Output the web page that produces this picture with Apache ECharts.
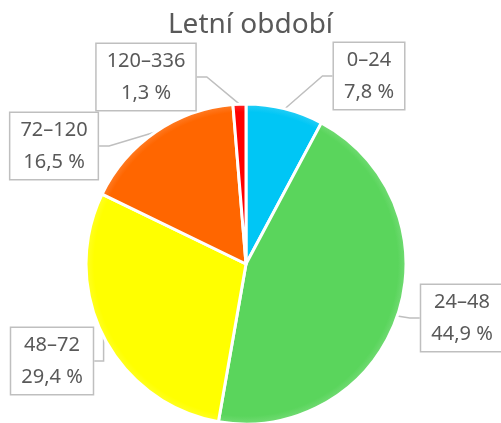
<!DOCTYPE html>
<html>
<head>
<meta charset="utf-8">
<script src="https://cdn.jsdelivr.net/npm/echarts@6/dist/echarts.min.js"></script>
<style>
html,body{margin:0;padding:0;background:#fff;}
#chart{width:501px;height:423px;}
</style>
</head>
<body>
<div id="chart"></div>
<script>
// data
var categories = ['0–24', '24–48', '48–72', '72–120', '120–336'];
var shares = [7.8, 44.9, 29.4, 16.5, 1.3];
var colors = ['#00c6f5', '#5ad55c', '#ffff00', '#ff6600', '#ff0000'];

var cx = 246, cy = 264, r = 160;

// label box centres (layout only)
var labelPos = [[369, 76], [462, 318], [52, 361], [54, 146], [146, 77]];

// darker ring near the edge
function shade(c){
    return {
        type: 'radial', x: cx, y: cy, r: r, global: true,
        colorStops: [
            {offset: 0, color: c},
            {offset: 0.95, color: c},
            {offset: 1, color: echarts.color.lift(c, 0.15)}
        ]
    };
}

var seriesData = categories.map(function(name, i){
    return {name: name, value: shares[i], itemStyle: {color: shade(colors[i])}};
});

var chart = echarts.init(document.getElementById('chart'));
chart.setOption({
    animation: false,
    title: {
        text: 'Letní období',
        left: 'center',
        top: 6,
        textStyle: {fontFamily: 'Noto Sans', fontSize: 28, fontWeight: 'normal', color: '#595959'}
    },
    series: [{
        type: 'pie',
        center: [cx, cy],
        radius: r,
        startAngle: 90,
        clockwise: true,
        avoidLabelOverlap: false,
        itemStyle: {borderColor: '#fff', borderWidth: 3},
        label: {
            show: true,
            position: 'outside',
            formatter: function(p){
                return p.name + '\n' + p.value.toFixed(1).replace('.', ',') + ' %';
            },
            fontFamily: 'Noto Sans',
            fontSize: 20,
            lineHeight: 32,
            color: '#595959',
            backgroundColor: '#fff',
            borderColor: '#bfbfbf',
            borderWidth: 1.5,
            padding: [1, 10]
        },
        labelLine: {
            show: true,
            length: 10,
            length2: 10,
            lineStyle: {color: '#bfbfbf', width: 1.5}
        },
        labelLayout: function(params){
            var p = labelPos[params.dataIndex];
            return {x: p[0], y: p[1], align: 'center', verticalAlign: 'middle'};
        },
        emphasis: {disabled: true},
        data: seriesData
    }]
});
</script>
</body>
</html>
